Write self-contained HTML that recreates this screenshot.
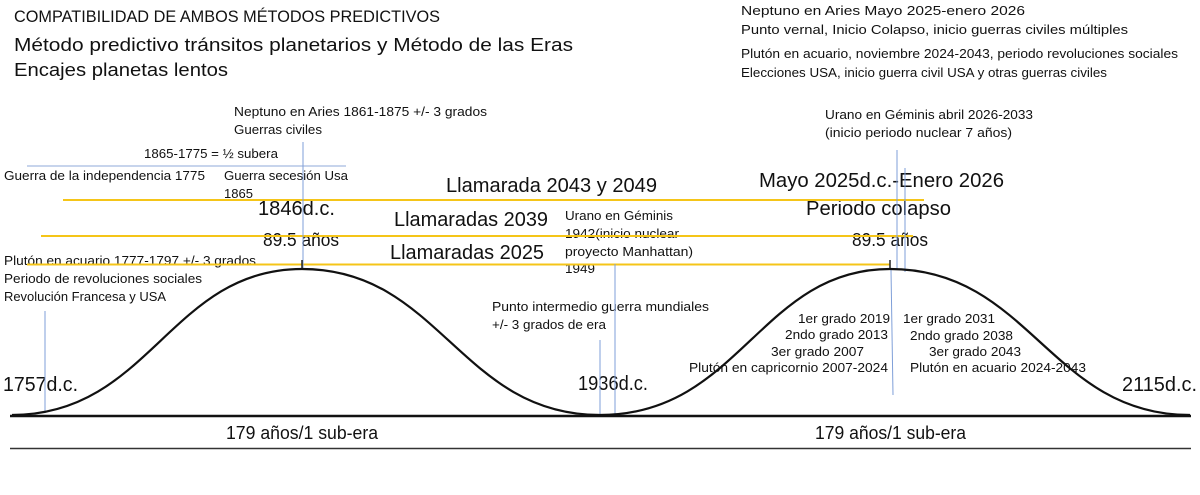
<!DOCTYPE html>
<html><head><meta charset="utf-8"><style>
html,body{margin:0;padding:0;background:#fff}
svg{display:block}
text{font-family:"Liberation Sans",sans-serif;fill:#111}
.s{font-size:12.5px}
.m{font-size:18px}
.l{font-size:20px}
</style></head><body>
<svg width="1200" height="495" viewBox="0 0 1200 495" xmlns="http://www.w3.org/2000/svg">
<rect width="1200" height="495" fill="#fff"/>
<text x="14" y="22" style="font-size:17px" textLength="426" lengthAdjust="spacingAndGlyphs">COMPATIBILIDAD DE AMBOS MÉTODOS PREDICTIVOS</text>
<text class="m" x="14" y="51" textLength="559" lengthAdjust="spacingAndGlyphs">Método predictivo tránsitos planetarios y Método de las Eras</text>
<text class="m" x="14" y="76" textLength="214" lengthAdjust="spacingAndGlyphs">Encajes planetas lentos</text>
<text class="s" x="741" y="15" textLength="284" lengthAdjust="spacingAndGlyphs">Neptuno en Aries Mayo 2025-enero 2026</text>
<text class="s" x="741" y="34" textLength="387" lengthAdjust="spacingAndGlyphs">Punto vernal, Inicio Colapso, inicio guerras civiles múltiples</text>
<text class="s" x="741" y="58" textLength="437" lengthAdjust="spacingAndGlyphs">Plutón en acuario, noviembre 2024-2043, periodo revoluciones sociales</text>
<text class="s" x="741" y="77" textLength="366" lengthAdjust="spacingAndGlyphs">Elecciones USA, inicio guerra civil USA y otras guerras civiles</text>
<text class="s" x="825" y="119" textLength="208" lengthAdjust="spacingAndGlyphs">Urano en Géminis abril 2026-2033</text>
<text class="s" x="825" y="137" textLength="187" lengthAdjust="spacingAndGlyphs">(inicio periodo nuclear 7 años)</text>
<text class="s" x="234" y="116" textLength="253" lengthAdjust="spacingAndGlyphs">Neptuno en Aries 1861-1875 +/- 3 grados</text>
<text class="s" x="234" y="134" textLength="88" lengthAdjust="spacingAndGlyphs">Guerras civiles</text>
<text class="s" x="144" y="158" textLength="134" lengthAdjust="spacingAndGlyphs">1865-1775 = ½ subera</text>
<line x1="27" y1="166" x2="346" y2="166" stroke="#8fa8d8" stroke-width="1"/>
<text class="s" x="4" y="180" textLength="201" lengthAdjust="spacingAndGlyphs">Guerra de la independencia 1775</text>
<text class="s" x="224" y="180" textLength="124" lengthAdjust="spacingAndGlyphs">Guerra secesión Usa</text>
<text class="s" x="224" y="198" textLength="29" lengthAdjust="spacingAndGlyphs">1865</text>
<text class="s" x="4" y="265" textLength="252" lengthAdjust="spacingAndGlyphs">Plutón en acuario 1777-1797 +/- 3 grados</text>
<text class="s" x="4" y="283" textLength="198" lengthAdjust="spacingAndGlyphs">Periodo de revoluciones sociales</text>
<text class="s" x="4" y="301" textLength="162" lengthAdjust="spacingAndGlyphs">Revolución Francesa y USA</text>
<text class="l" x="446" y="192" textLength="211" lengthAdjust="spacingAndGlyphs">Llamarada 2043 y 2049</text>
<text class="l" x="258" y="215" textLength="77" lengthAdjust="spacingAndGlyphs">1846d.c.</text>
<text class="l" x="394" y="226" textLength="154" lengthAdjust="spacingAndGlyphs">Llamaradas 2039</text>
<text class="m" x="263" y="246" textLength="76" lengthAdjust="spacingAndGlyphs">89.5 años</text>
<text class="l" x="390" y="259" textLength="154" lengthAdjust="spacingAndGlyphs">Llamaradas 2025</text>
<text class="s" x="565" y="220" textLength="108" lengthAdjust="spacingAndGlyphs">Urano en Géminis</text>
<text class="s" x="565" y="238" textLength="114" lengthAdjust="spacingAndGlyphs">1942(inicio nuclear</text>
<text class="s" x="565" y="256" textLength="128" lengthAdjust="spacingAndGlyphs">proyecto Manhattan)</text>
<text class="s" x="565" y="273" textLength="30" lengthAdjust="spacingAndGlyphs">1949</text>
<text class="s" x="492" y="311" textLength="217" lengthAdjust="spacingAndGlyphs">Punto intermedio guerra mundiales</text>
<text class="s" x="492" y="329" textLength="114" lengthAdjust="spacingAndGlyphs">+/- 3 grados de era</text>
<text class="l" x="759" y="187" textLength="245" lengthAdjust="spacingAndGlyphs">Mayo 2025d.c.-Enero 2026</text>
<text class="l" x="806" y="215" textLength="145" lengthAdjust="spacingAndGlyphs">Periodo colapso</text>
<text class="m" x="852" y="246" textLength="76" lengthAdjust="spacingAndGlyphs">89.5 años</text>
<text class="s" x="798" y="323" textLength="92" lengthAdjust="spacingAndGlyphs">1er grado 2019</text>
<text class="s" x="785" y="339" textLength="103" lengthAdjust="spacingAndGlyphs">2ndo grado 2013</text>
<text class="s" x="771" y="356" textLength="93" lengthAdjust="spacingAndGlyphs">3er grado 2007</text>
<text class="s" x="689" y="372" textLength="199" lengthAdjust="spacingAndGlyphs">Plutón en capricornio 2007-2024</text>
<text class="s" x="903" y="323" textLength="92" lengthAdjust="spacingAndGlyphs">1er grado 2031</text>
<text class="s" x="910" y="340" textLength="103" lengthAdjust="spacingAndGlyphs">2ndo grado 2038</text>
<text class="s" x="929" y="356" textLength="92" lengthAdjust="spacingAndGlyphs">3er grado 2043</text>
<text class="s" x="910" y="372" textLength="176" lengthAdjust="spacingAndGlyphs">Plutón en acuario 2024-2043</text>
<text class="l" x="3" y="391" textLength="75" lengthAdjust="spacingAndGlyphs">1757d.c.</text>
<text class="l" x="578" y="390" textLength="70" lengthAdjust="spacingAndGlyphs">1936d.c.</text>
<text class="l" x="1122" y="391" textLength="75" lengthAdjust="spacingAndGlyphs">2115d.c.</text>
<text class="m" x="226" y="439" textLength="152" lengthAdjust="spacingAndGlyphs">179 años/1 sub-era</text>
<text class="m" x="815" y="439" textLength="151" lengthAdjust="spacingAndGlyphs">179 años/1 sub-era</text>
<line x1="63" y1="200" x2="924" y2="200" stroke="#f5c518" stroke-width="2"/>
<line x1="41" y1="236" x2="913" y2="236" stroke="#f5c518" stroke-width="2"/>
<line x1="27" y1="264.5" x2="890" y2="264.5" stroke="#f5c518" stroke-width="2"/>
<g stroke="#7f9fd8" stroke-width="1">
<line x1="303" y1="142" x2="303" y2="268"/>
<line x1="45" y1="311" x2="45" y2="413"/>
<line x1="600" y1="340" x2="600" y2="415"/>
<line x1="615" y1="264" x2="615" y2="415"/>
<line x1="897" y1="150" x2="897" y2="269"/>
<line x1="905" y1="168" x2="905" y2="272"/>
<line x1="891" y1="270" x2="893" y2="395"/>
</g>
<line x1="302" y1="260" x2="302" y2="269" stroke="#222" stroke-width="1.5"/>
<line x1="890" y1="260" x2="890" y2="269" stroke="#222" stroke-width="1.5"/>
<path d="M12 415 C150 415 170 269 302 269 C440 269 460 415 600 415 C740 415 760 269 890 269 C1030 269 1050 415 1190 415" fill="none" stroke="#111" stroke-width="2.2"/>
<line x1="10" y1="416" x2="1191" y2="416" stroke="#111" stroke-width="2.5"/>
<line x1="10" y1="448.5" x2="1191" y2="448.5" stroke="#333" stroke-width="1.5"/>
</svg>
</body></html>
